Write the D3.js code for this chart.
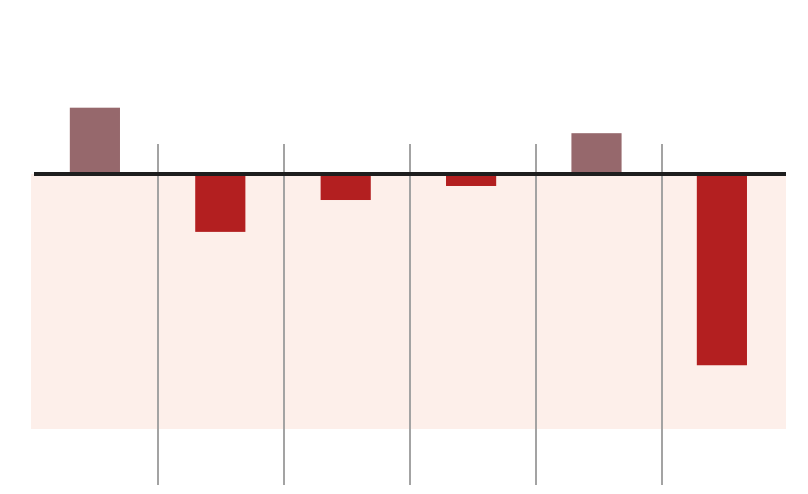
<!DOCTYPE html>
<html><head><meta charset="utf-8">
<script src="https://cdn.jsdelivr.net/npm/d3@7"></script>
<style>html,body{margin:0;padding:0;background:#fff;}svg{display:block;}</style>
</head><body>
<svg id="chart" width="808" height="494"></svg>
<script>
const categories = ["A", "B", "C", "D", "E", "F"];
const values = [2.6, -2.27, -1.02, -0.47, 1.6, -7.5];
const yDomain = [-10, 5];

const svg = d3.select("#chart");
const xGrid = d3.scaleBand().domain(categories).range([32, 788]);
const x = d3.scaleBand().domain(categories).range([32.2, 784.6]).paddingInner(0.6).paddingOuter(0.3);
const y = d3.scaleLinear().domain(yDomain).range([429, 46.5]);

// negative-zone background
svg.append("rect")
  .attr("x", 31).attr("width", 786 - 31)
  .attr("y", y(0)).attr("height", y(yDomain[0]) - y(0))
  .attr("fill", "#fdefea");

// dividers between categories
svg.selectAll("line.div").data(categories.slice(1)).join("line")
  .attr("class", "div")
  .attr("x1", d => xGrid(d))
  .attr("x2", d => xGrid(d))
  .attr("y1", 144).attr("y2", 485)
  .attr("stroke", "#a3a3a3").attr("stroke-width", 2);

// bars
svg.selectAll("rect.bar").data(categories).join("rect")
  .attr("class", "bar")
  .attr("x", d => x(d))
  .attr("width", x.bandwidth())
  .attr("y", (d, i) => y(Math.max(0, values[i])))
  .attr("height", (d, i) => Math.abs(y(values[i]) - y(0)))
  .attr("fill", (d, i) => values[i] >= 0 ? "#96686c" : "#b31f20");

// zero line
svg.append("line")
  .attr("x1", 34).attr("x2", 786)
  .attr("y1", y(0)).attr("y2", y(0))
  .attr("stroke", "#1e1e1e").attr("stroke-width", 4);
</script>
</body></html>
